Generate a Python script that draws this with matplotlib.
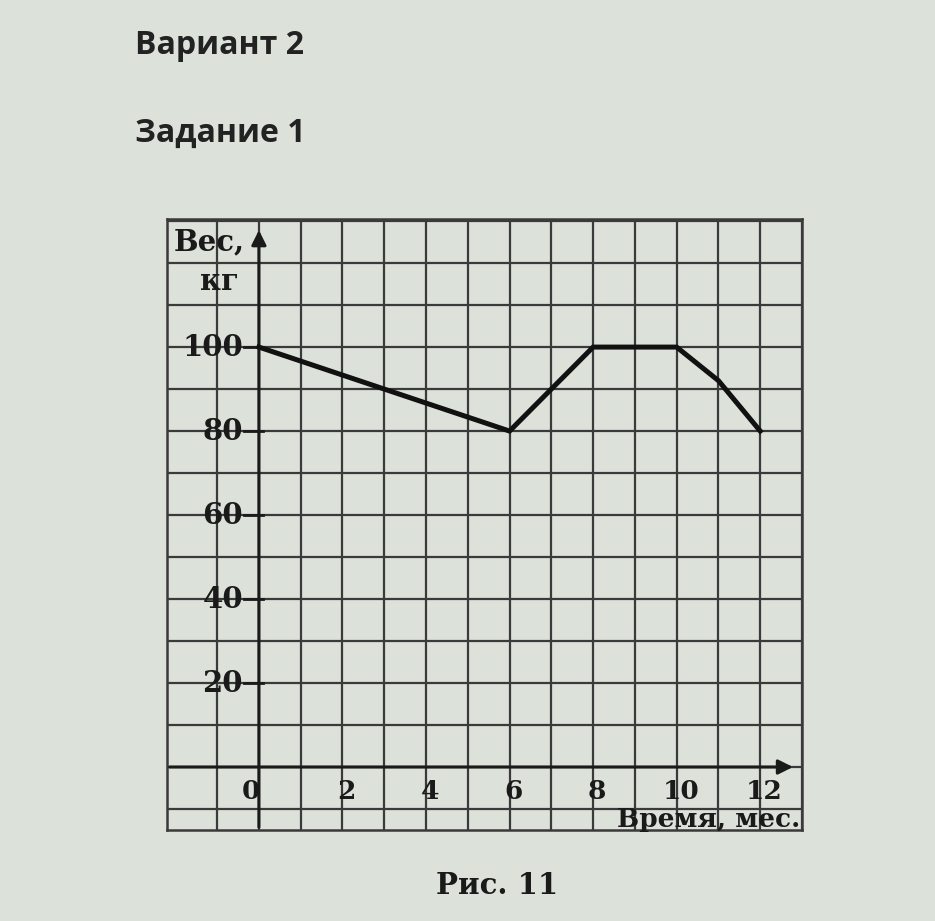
import numpy as np
import matplotlib
matplotlib.use("Agg")
import matplotlib.pyplot as plt

# data
months = [0, 6, 8, 10, 11, 12]
weight = [100, 80, 100, 100, 92, 80]
x_ticks = [0, 2, 4, 6, 8, 10, 12]
y_ticks = [20, 40, 60, 80, 100]

bg = "#dce1da"
ink = "#1a1a1a"
grid_col = "#3a3a3a"

fig = plt.figure(figsize=(9.35, 9.21), dpi=100)
fig.patch.set_facecolor(bg)

# axes placed where the grid is in the photo
W, H = 935, 921
ax = fig.add_axes([167 / W, 1 - 830 / H, (802 - 167) / W, (830 - 219) / H])
ax.set_facecolor(bg)
ax.set_xlim(-2.2, 13)
ax.set_ylim(-15, 130.5)

# grid: one cell = 1 month x 10 kg (left frame stands in for x = -2)
for gx in range(-1, 14):
    ax.axvline(gx, color=grid_col, lw=1.6, zorder=1)
for gy in range(-10, 131, 10):
    ax.axhline(gy, color=grid_col, lw=1.6, zorder=1)

for s in ax.spines.values():
    s.set_color(grid_col)
    s.set_linewidth(1.8)
ax.set_xticks([])
ax.set_yticks([])

# axes with arrows
ax.annotate("", xy=(12.85, 0), xytext=(-2.2, 0),
            arrowprops=dict(arrowstyle="-|>", lw=2.2, color=ink, mutation_scale=22),
            zorder=3, annotation_clip=False)
ax.annotate("", xy=(0, 128.5), xytext=(0, -15),
            arrowprops=dict(arrowstyle="-|>", lw=2.2, color=ink, mutation_scale=22),
            zorder=3, annotation_clip=False)

# tick marks on the y axis
for v in y_ticks:
    ax.plot([-0.35, 0.1], [v, v], color=ink, lw=2, zorder=3)

# the weight curve
ax.plot(months, weight, color="#111111", lw=3.6, solid_joinstyle="miter", zorder=4)

serif = dict(family="DejaVu Serif", fontweight="bold", color=ink)

for v in y_ticks:
    ax.text(-0.38, v, str(v), ha="right", va="center", fontsize=21, zorder=5, **serif)
for v in x_ticks:
    xpos = -0.2 if v == 0 else v + 0.1
    ax.text(xpos, -5.9, str(v), ha="center", va="center", fontsize=19, zorder=5, **serif)

ax.text(-2.05, 125, "Вес,", ha="left", va="center", fontsize=21, zorder=5, **serif)
ax.text(-0.95, 115.5, "кг", ha="center", va="center", fontsize=21, zorder=5, **serif)
ax.text(12.95, -12.6, "Время, мес.", ha="right", va="center", fontsize=19, zorder=5, **serif)

# page text around the figure
sans = dict(family="Open Sans", fontweight="bold", color="#222222")
fig.text(135 / W, 1 - 46 / H, "Вариант 2", ha="left", va="center", fontsize=23, **sans)
fig.text(135 / W, 1 - 133 / H, "Задание 1", ha="left", va="center", fontsize=23, **sans)
fig.text(497 / W, 1 - 885 / H, "Рис. 11", ha="center", va="center", fontsize=21, **serif)

fig.savefig("out.png", dpi=100, facecolor=bg)
